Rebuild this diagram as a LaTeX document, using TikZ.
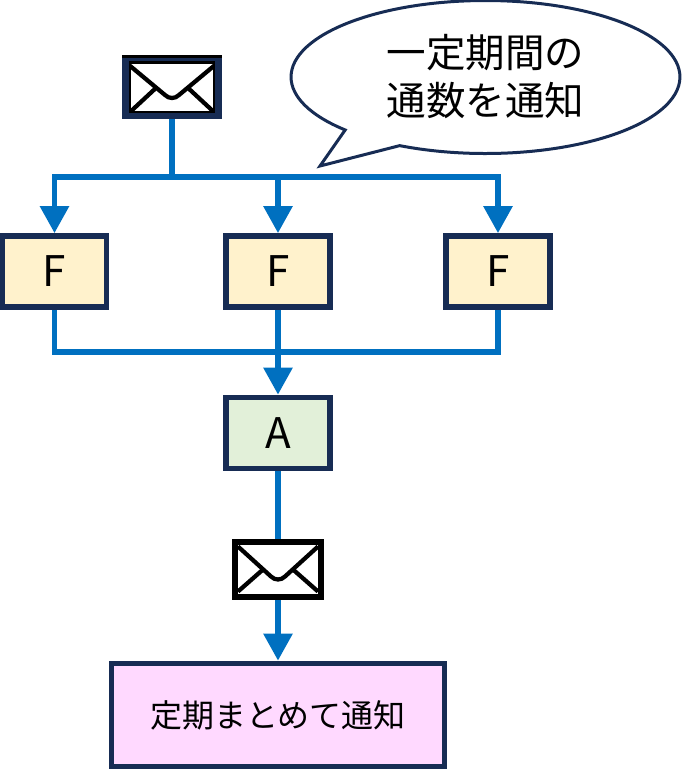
\documentclass[tikz,border=0pt]{standalone}
\usepackage{fontspec}
\setmainfont{Noto Sans CJK JP}
\usetikzlibrary{arrows.meta}
\usetikzlibrary{shapes.callouts}
\definecolor{boxnavy}{HTML}{172C54}
\definecolor{flowblue}{HTML}{0070C0}
\definecolor{filterfill}{HTML}{FFF2CC}
\definecolor{aggfill}{HTML}{E2F0D9}
\definecolor{noticefill}{HTML}{FFD9FF}
\tikzset{
  box/.style={draw=boxnavy,line width=.115cm,inner sep=0pt,font=\fontsize{24pt}{24pt}\selectfont},
  smallbox/.style={box,minimum width=2.08cm,minimum height=1.42cm},
  flow/.style={draw=flowblue,line width=.115cm},
  flowarrow/.style={flow,-{Triangle[width=.56cm,length=.54cm]}},
  flapline/.style={black,line width=.085cm,line join=round},
  mailbox/.style={fill=white,inner sep=0pt,line width=.13cm},
}
\newcommand{\mailflap}[4]{%
  \draw[flapline,shift={(path picture bounding box.center)}]
    (-#1,-#2) -- (-7,#3-4) .. controls (-3,#3) and (3,#3) .. (7,#3-4) -- (#1,-#2);
  \draw[flapline,shift={(path picture bounding box.center)}]
    (-#1,#4) -- (-15,0) (#1,#4) -- (15,0);
}
\begin{document}
\begin{tikzpicture}[x=.02cm,y=-.02cm]
  \useasboundingbox (0,0) rectangle (682,769);

  % top mail and the balloon
  \node[mailbox,draw=boxnavy,minimum width=1.87cm,minimum height=1.16cm,
    path picture={\draw[black,line width=.22cm] (path picture bounding box.north west) rectangle (path picture bounding box.south east);
      \mailflap{43}{22}{12}{26}}] (mailtop) at (172,87) {};
  \draw[black,line width=.06cm] ([yshift=-.03cm]mailtop.north west) -- ([yshift=-.03cm]mailtop.north east);
  \node[ellipse callout,draw=boxnavy,line width=.06cm,fill=white,inner sep=0pt,
    minimum width=7.78cm,minimum height=3.06cm,
    callout absolute pointer={(320,166)},callout pointer arc=20,
    align=center,font=\fontsize{22.5pt}{27.3pt}\selectfont] (balloon) at (485.5,77)
    {\raisebox{-.14cm}{一定期間の}\\\raisebox{-.14cm}{通数を通知}};

  % filters
  \node[smallbox,fill=filterfill] (filterA) at (54.5,271.5) {F};
  \node[smallbox,fill=filterfill] (filterB) at (278,271.5) {F};
  \node[smallbox,fill=filterfill] (filterC) at (498,271.5) {F};
  \coordinate (split) at (172,177);
  \coordinate (merge) at (278,352);

  \draw[flow] (mailtop) -- (split);
  \draw[flowarrow] (split) -| (filterA);
  \draw[flowarrow] (split) -| (filterB);
  \draw[flowarrow] (split) -| (filterC);

  % aggregator
  \node[smallbox,fill=aggfill] (agg) at (278,433) {A};
  \draw[flow] (filterA) |- (merge);
  \draw[flow] (filterC) |- (merge);
  \draw[flowarrow] (filterB) -- (agg);

  % bottom mail and the result
  \node[mailbox,draw=black,minimum width=1.72cm,minimum height=1.1cm,
    path picture={\mailflap{40}{23}{11}{22}}] (mailbot) at (278,569.5) {};
  \node[box,fill=noticefill,minimum width=6.66cm,minimum height=2.06cm,
    font=\fontsize{18.2pt}{18pt}\selectfont] (notice) at (278,715) {定期まとめて通知};
  \draw[flow] (agg) -- (mailbot);
  \draw[flowarrow] (mailbot) -- (notice);
\end{tikzpicture}
\end{document}
